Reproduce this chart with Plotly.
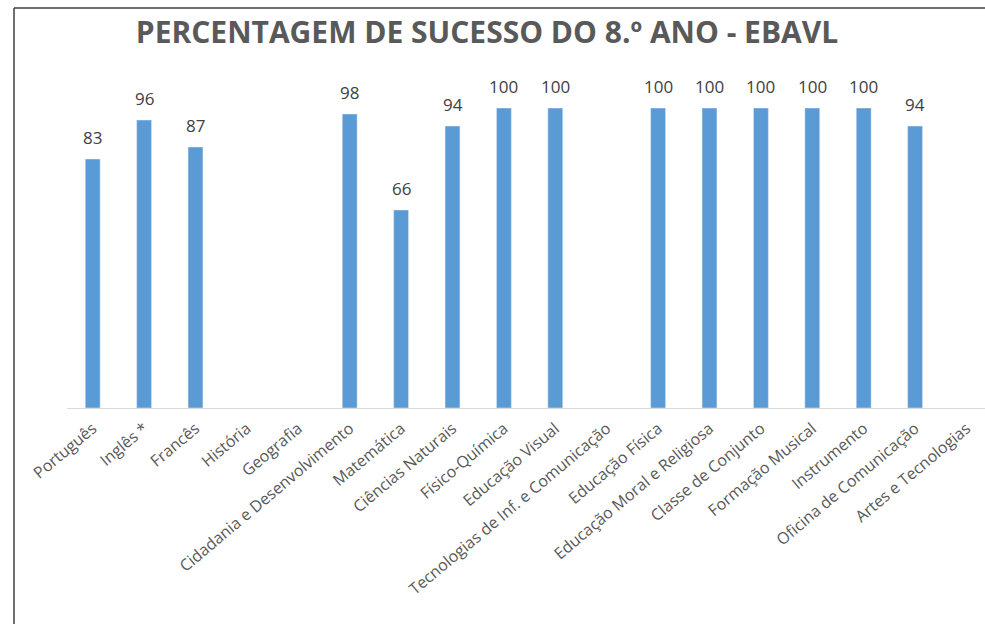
import plotly.graph_objects as go

categories = ["Português", "Inglês *", "Francês", "História", "Geografia",
              "Cidadania e Desenvolvimento", "Matemática", "Ciências Naturais",
              "Físico-Química", "Educação Visual", "Tecnologias de Inf. e Comunicação",
              "Educação Física", "Educação Moral e Religiosa", "Classe de Conjunto",
              "Formação Musical", "Instrumento", "Oficina de Comunicação", "Artes e Tecnologias"]
values = [83, 96, 87, None, None, 98, 66, 94, 100, 100, None, 100, 100, 100, 100, 100, 94, None]

W, H = 985, 624
L, R, T, B = 67, 0, 108, 216
pw, ph = W - L - R, H - T - B

def px(x):
    return (x - L) / pw

def py(y):
    return (H - B - y) / ph

fig = go.Figure(go.Bar(
    x=categories, y=values,
    marker=dict(color="#5B9BD5"), cliponaxis=False, hoverinfo="skip",
))

annotations = [
    dict(x=c, y=v, xref="x", yref="y", text=str(v), showarrow=False,
         yshift=22, yanchor="middle",
         font=dict(size=17, color="#404040", family="Open Sans"))
    for c, v in zip(categories, values) if v is not None
]

fig.update_layout(
    width=W, height=H, margin=dict(l=L, r=R, t=T, b=B),
    paper_bgcolor="white", plot_bgcolor="white",
    bargap=0.71, showlegend=False,
    title=dict(text="<b>PERCENTAGEM DE SUCESSO DO 8.º ANO - EBAVL</b>",
               x=487 / W, xanchor="center", y=1 - 32 / H, yanchor="middle",
               font=dict(size=30, color="#595959", family="Open Sans")),
    xaxis=dict(type="category", range=[-0.5, 17.36], tickangle=-40,
               tickfont=dict(size=16, color="#595959", family="Open Sans"),
               showline=True, linecolor="#D9D9D9", linewidth=1,
               ticks="outside", ticklen=4, tickcolor="rgba(0,0,0,0)",
               showgrid=False, fixedrange=True),
    yaxis=dict(range=[0, 100], visible=False, showgrid=False, fixedrange=True),
    annotations=annotations,
    shapes=[
        dict(type="line", xref="paper", yref="paper", x0=px(14), x1=px(14),
             y0=py(8), y1=py(H + 5), line=dict(color="#404040", width=1.5)),
        dict(type="line", xref="paper", yref="paper", x0=px(14), x1=px(W + 5),
             y0=py(8), y1=py(8), line=dict(color="#404040", width=1.5)),
    ],
)

fig.write_html("out.html", config={"displayModeBar": False},
               post_script="document.body.style.margin='0';document.body.style.overflow='hidden';")
